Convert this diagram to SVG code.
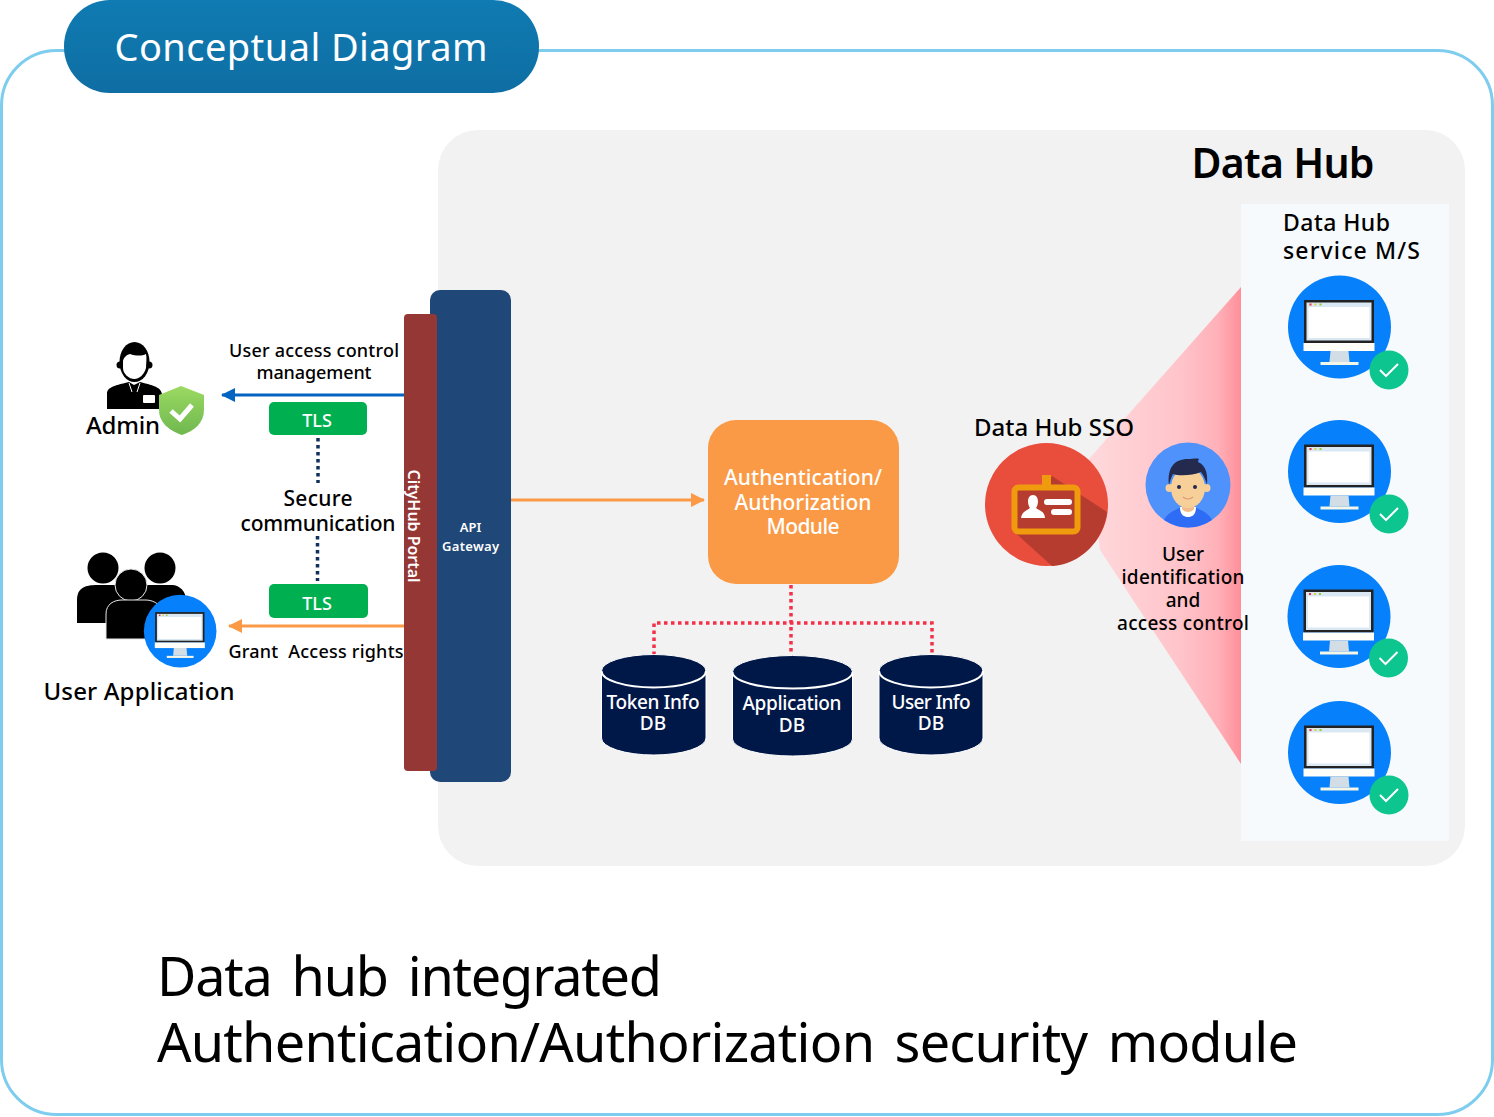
<svg xmlns="http://www.w3.org/2000/svg" width="1494" height="1117" viewBox="0 0 1494 1117">
<style>
text{font-family:"Noto Sans","Open Sans","Liberation Sans",sans-serif;fill:#000;text-anchor:middle}
.w{fill:#fff}
.m{font-weight:500}
.b{font-weight:600}
.cyl{fill:#001848;stroke:#fff;stroke-width:1}
.lid{fill:none;stroke:#fff;stroke-width:2}
.red{fill:none;stroke:#f5304a;stroke-width:3.5;stroke-dasharray:3.5 3.5}
.navy{fill:none;stroke:#12305c;stroke-width:3.5;stroke-dasharray:3.5 3.5}
.tls{fill:#00b050}
.cap{font-size:54px;text-anchor:start;word-spacing:7px}
</style>
<defs>
<linearGradient id="pink" x1="0" x2="1" y1="0" y2="0"><stop offset="0" stop-color="#ffd9dc"/><stop offset=".6" stop-color="#ffc4ca"/><stop offset=".85" stop-color="#ffb0b8"/><stop offset="1" stop-color="#ff8f9a"/></linearGradient>
<linearGradient id="hdr" x1="0" x2="0" y1="0" y2="1"><stop offset="0" stop-color="#0f7bb2"/><stop offset="1" stop-color="#0f6ea3"/></linearGradient>
<linearGradient id="shield" x1="0" x2="0" y1="0" y2="1"><stop offset="0" stop-color="#9bd962"/><stop offset="1" stop-color="#6fb84f"/></linearGradient>
<marker id="ab" markerUnits="userSpaceOnUse" markerWidth="14" markerHeight="14" refX="13" refY="7" orient="auto"><path d="M0 0L14 7L0 14z" fill="#0563c1"/></marker>
<marker id="ao" markerUnits="userSpaceOnUse" markerWidth="14" markerHeight="14" refX="13" refY="7" orient="auto"><path d="M0 0L14 7L0 14z" fill="#fb9a46"/></marker>
<g id="mon">
<circle cx="52" cy="52" r="51.500" fill="#0680fb"/>
<rect x="16.500" y="25" width="70" height="43" fill="#222"/>
<rect x="19" y="27.500" width="65" height="38" fill="#d9e8f2"/>
<rect x="21" y="32" width="61" height="31" fill="#fff"/>
<rect x="16" y="68" width="71" height="8" fill="#fffef8"/>
<path d="M43 76H61L62 87H42z" fill="#d3dde6"/>
<rect x="33" y="87" width="38" height="3" fill="#f4f6e8"/>
<rect x="22" y="28.500" width="2" height="2" fill="#e33"/><rect x="27" y="28.500" width="2" height="2" fill="#ec3"/><rect x="32" y="28.500" width="2" height="2" fill="#9c3"/>
</g>
<g id="chk">
<circle cx="0" cy="0" r="19.500" fill="#0dc58f"/>
<path d="M-9 0L-3 6L9 -6" fill="none" stroke="#fff" stroke-width="2"/>
</g>
</defs>

<g id="frame">
<rect x="1.500" y="50.500" width="1491" height="1064" rx="55" fill="#fff" stroke="#7fcdee" stroke-width="3"/>
</g>
<g id="header">
<rect x="64" y="0" width="475" height="93" rx="46" fill="url(#hdr)"/>
<text x="301" y="61" font-size="38" class="w" textLength="373">Conceptual Diagram</text>
</g>
<g id="data-hub">
<rect x="438" y="130" width="1027" height="736" rx="40" fill="#f2f2f2"/>
<text x="1283" y="178" font-size="41" class="b" textLength="183">Data Hub</text>
</g>
<g id="service-panel">
<rect x="1241" y="204" width="208" height="637" fill="#f6fafc"/>
<text x="1283" y="231" font-size="23" class="m" style="text-anchor:start" textLength="107">Data Hub</text>
<text x="1283" y="259" font-size="23" class="m" style="text-anchor:start" textLength="137">service M/S</text>
</g>
<g id="sso-beam">
<path d="M1088 460L1241 287V764L1100 550z" fill="url(#pink)"/>
</g>

<g id="connectors">
<path d="M404 395H222" stroke="#0563c1" stroke-width="3" fill="none" marker-end="url(#ab)"/>
<path d="M404 626H229" stroke="#fb9a46" stroke-width="3" fill="none" marker-end="url(#ao)"/>
<path d="M511 500H704" stroke="#fb9a46" stroke-width="3" fill="none" marker-end="url(#ao)"/>
<path class="navy" d="M318 438V483"/>
<path class="navy" d="M317.500 536V581"/>
<path class="red" d="M791 585V658"/>
<path class="red" d="M654 655V623H932V654"/>
</g>

<g id="api-gateway">
<rect x="430" y="290" width="81" height="492" rx="10" fill="#1f4777"/>
<text x="470.500" y="532" font-size="13" class="w b">API</text>
<text x="470.500" y="551" font-size="13" class="w b" textLength="57">Gateway</text>
</g>
<g id="cityhub-portal">
<rect x="404" y="314" width="33" height="457" rx="4" fill="#953735"/>
<text transform="translate(408 526) rotate(90)" font-size="16" class="w b" textLength="113">CityHub Portal</text>
</g>

<g id="admin">
<path d="M107 409V394C107 388 112 386 129 382L134 385L140 382C156 386 161 388 162 394V409z" fill="#000"/>
<path d="M129 383L132 392M140 383L137 392" stroke="#fff" stroke-width="1" fill="none"/>
<rect x="143" y="395" width="12" height="8" rx="1" fill="#fff"/>
<circle cx="120" cy="365" r="3.500" fill="#000"/><circle cx="149" cy="365" r="3.500" fill="#000"/>
<ellipse cx="134.500" cy="362" rx="15" ry="20" fill="#000"/>
<path d="M123 362C123 358 126 355 130 354C136 356 142 356 146 354C147 358 146 364 146 368C144 375 139 379 134.500 379C129 379 123 374 123 368z" fill="#fff"/>
<path d="M181 386L204 395V410C204 423 194 431 182 435C170 431 159 423 159 410V395z" fill="url(#shield)"/>
<path d="M171 411L180 419L192 405" fill="none" stroke="#fff" stroke-width="5"/>
<text x="123" y="434" font-size="24" class="m" textLength="74">Admin</text>
</g>
<g id="user-application">
<circle cx="103" cy="568" r="15.500" fill="#000"/><circle cx="160" cy="568" r="15.500" fill="#000"/>
<path d="M77 623V600C77 588 85 585 97 585H172C180 585 186 592 186 600V623z" fill="#000"/>
<circle cx="131" cy="585" r="16" fill="#000" stroke="#e8e8e8" stroke-width="1"/>
<path d="M106 639V614C106 604 114 600 122 600H146C154 600 164 606 164 616V639z" fill="#000" stroke="#e8e8e8" stroke-width="1"/>
<g transform="translate(143.500 594.500) scale(.705)"><use href="#mon"/></g>
<text x="139" y="700" font-size="24" class="m" textLength="191">User Application</text>
</g>

<g id="labels-left">
<text x="314" y="357" font-size="18" class="m" textLength="170">User access control</text>
<text x="314" y="379" font-size="18" class="m" textLength="115">management</text>
<text x="318" y="506" font-size="21" class="m" textLength="69">Secure</text>
<text x="318" y="531" font-size="21" class="m" textLength="155">communication</text>
<text x="316" y="658" font-size="18" class="m" textLength="175" xml:space="preserve">Grant  Access rights</text>
</g>
<g id="tls-top">
<rect class="tls" x="269" y="402" width="98" height="33" rx="5"/>
<text x="317" y="427" font-size="18" class="w m">TLS</text>
</g>
<g id="tls-bottom">
<rect class="tls" x="269" y="584" width="99" height="34" rx="5"/>
<text x="317" y="610" font-size="18" class="w m">TLS</text>
</g>

<g id="auth-module">
<rect x="708" y="420" width="191" height="164" rx="28" fill="#fb9a46"/>
<text x="803" y="485" font-size="21" class="w m" textLength="158">Authentication/</text>
<text x="803" y="510" font-size="21" class="w m" textLength="137">Authorization</text>
<text x="803" y="534" font-size="21" class="w m" textLength="73">Module</text>
</g>

<g id="token-db">
<path class="cyl" d="M601.500 671A52.250 16.500 0 0 1 706 671V738A52.250 17 0 0 1 601.500 738z"/>
<path class="lid" d="M601.500 671A52.250 16.500 0 0 0 706 671"/>
<text x="653" y="709" font-size="19" class="w m" textLength="93">Token Info</text>
<text x="653" y="730" font-size="19" class="w m">DB</text>
</g>
<g id="application-db">
<path class="cyl" d="M732.500 672A60 16.500 0 0 1 852.500 672V739A60 17 0 0 1 732.500 739z"/>
<path class="lid" d="M732.500 672A60 16.500 0 0 0 852.500 672"/>
<text x="792" y="710" font-size="19" class="w m" textLength="99">Application</text>
<text x="792" y="732" font-size="19" class="w m">DB</text>
</g>
<g id="user-db">
<path class="cyl" d="M879 671A52 16.500 0 0 1 983 671V738A52 17 0 0 1 879 738z"/>
<path class="lid" d="M879 671A52 16.500 0 0 0 983 671"/>
<text x="931" y="709" font-size="19" class="w m" textLength="79">User Info</text>
<text x="931" y="730" font-size="19" class="w m">DB</text>
</g>

<g id="sso">
<text x="1054" y="436" font-size="24" class="m" textLength="160">Data Hub SSO</text>
<circle cx="1046.500" cy="504.500" r="61.500" fill="#e94e3c"/>
<path d="M1052 476L1107 512C1104 540 1080 565 1052 566L1012 530z" fill="#b53c2f"/>
<rect x="1014.500" y="487.500" width="63" height="44" rx="4" fill="#b53c2f" stroke="#f09a0e" stroke-width="6"/>
<rect x="1042" y="475" width="9" height="10" fill="#f09a0e"/>
<path d="M1021 518C1022 511 1028 510 1030 508C1027 504 1027 495 1033 495C1039 495 1039 504 1036 508C1038 510 1045 511 1045 518z" fill="#fff"/>
<rect x="1044" y="499" width="28" height="6" rx="3" fill="#fff"/>
<rect x="1051" y="509" width="21" height="6" rx="3" fill="#fff"/>
</g>
<g id="user-control">
<circle cx="1188" cy="485" r="42.500" fill="#4f92fb"/>
<path d="M1164 520C1168 512 1176 510 1181 507H1195C1200 510 1208 512 1212 520A42.500 42.500 0 0 1 1164 520z" fill="#2f6cf5"/>
<path d="M1180 507H1196C1196 515 1192 517 1188 517C1184 517 1180 515 1180 507z" fill="#fff"/>
<path d="M1182 504H1194V509C1192 513 1184 513 1182 509z" fill="#f2bd8c"/>
<circle cx="1169.500" cy="488" r="4" fill="#f7cf98"/><circle cx="1206.500" cy="488" r="4" fill="#f7cf98"/>
<ellipse cx="1188" cy="488" rx="17" ry="20" fill="#f7cf98"/>
<path d="M1169 485C1167 468 1174 459 1188 459C1192 459 1197 458 1199 459C1198 461 1198 462 1198 462C1205 465 1208 472 1207 485C1205 478 1203 475 1201 472C1192 476 1178 476 1173 474C1171 478 1170 481 1169 485z" fill="#242a4d"/>
<circle cx="1179" cy="487" r="2" fill="#242a4d"/><circle cx="1195" cy="487" r="2" fill="#242a4d"/>
<path d="M1183 497Q1188 501 1193 497" fill="none" stroke="#d99a70" stroke-width="1.200"/>
<text x="1183" y="561" font-size="19" class="m">User</text>
<text x="1183" y="584" font-size="19" class="m" textLength="123">identification</text>
<text x="1183" y="607" font-size="19" class="m">and</text>
<text x="1183" y="630" font-size="19" class="m" textLength="132">access control</text>
</g>

<g id="service-1"><use href="#mon" x="1287.500" y="275"/><use href="#chk" x="1389" y="370"/></g>
<g id="service-2"><use href="#mon" x="1287.500" y="419.500"/><use href="#chk" x="1389" y="514"/></g>
<g id="service-3"><use href="#mon" x="1287" y="564.500"/><use href="#chk" x="1388.500" y="658"/></g>
<g id="service-4"><use href="#mon" x="1287.500" y="700.500"/><use href="#chk" x="1389" y="795"/></g>

<g id="caption">
<text x="157" y="996" class="cap" textLength="505">Data hub integrated</text>
<text x="157" y="1062" class="cap" textLength="1141">Authentication/Authorization security module</text>
</g>
</svg>
